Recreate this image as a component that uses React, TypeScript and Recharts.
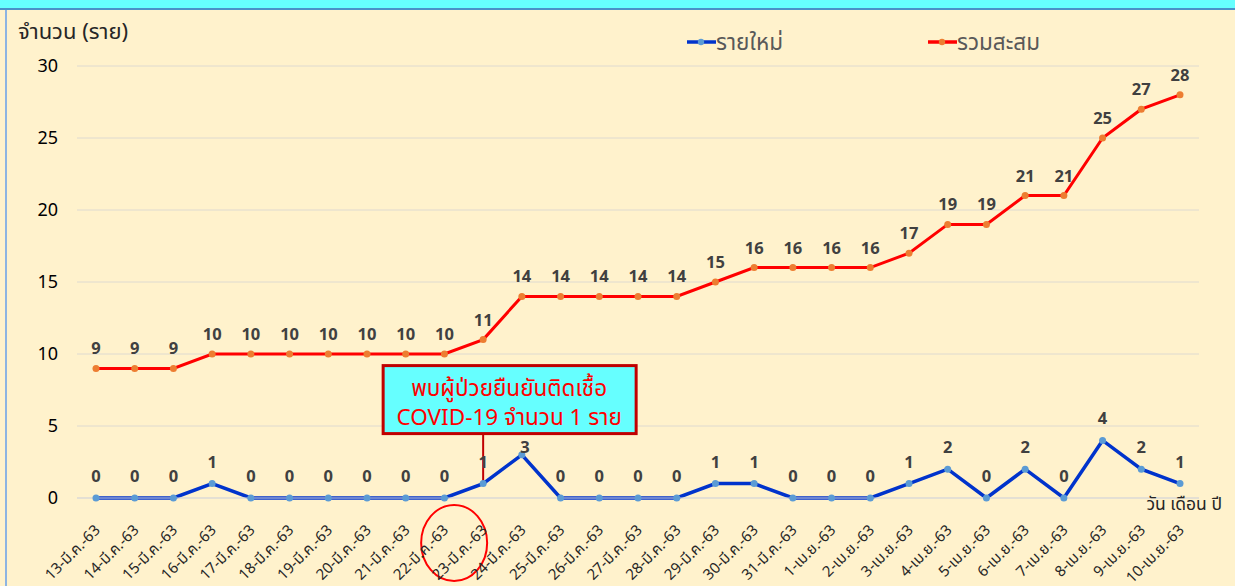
import React from 'react';
import {
  LineChart, Line, XAxis, YAxis, CartesianGrid, Legend, LabelList, ReferenceLine, ReferenceDot,
} from 'recharts';

const dates = [
  '13-มี.ค.-63', '14-มี.ค.-63', '15-มี.ค.-63', '16-มี.ค.-63', '17-มี.ค.-63', '18-มี.ค.-63',
  '19-มี.ค.-63', '20-มี.ค.-63', '21-มี.ค.-63', '22-มี.ค.-63', '23-มี.ค.-63', '24-มี.ค.-63',
  '25-มี.ค.-63', '26-มี.ค.-63', '27-มี.ค.-63', '28-มี.ค.-63', '29-มี.ค.-63', '30-มี.ค.-63',
  '31-มี.ค.-63', '1-เม.ย.-63', '2-เม.ย.-63', '3-เม.ย.-63', '4-เม.ย.-63', '5-เม.ย.-63',
  '6-เม.ย.-63', '7-เม.ย.-63', '8-เม.ย.-63', '9-เม.ย.-63', '10-เม.ย.-63',
];
const newCases = [0, 0, 0, 1, 0, 0, 0, 0, 0, 0, 1, 3, 0, 0, 0, 0, 1, 1, 0, 0, 0, 1, 2, 0, 2, 0, 4, 2, 1];
const cumulative = [9, 9, 9, 10, 10, 10, 10, 10, 10, 10, 11, 14, 14, 14, 14, 14, 15, 16, 16, 16, 16, 17, 19, 19, 21, 21, 25, 27, 28];
const yTicks = [0, 5, 10, 15, 20, 25, 30];
const seriesNames = ['รายใหม่', 'รวมสะสม'];
const yTitle = 'จำนวน (ราย)';
const xTitle = 'วัน เดือน ปี';
const noteLines = ['พบผู้ป่วยยืนยันติดเชื้อ', 'COVID-19 จำนวน 1 ราย'];
const noteDate = '23-มี.ค.-63';
const noteValue = 1;

const data = dates.map((d, i) => ({ date: d, newCases: newCases[i], cumulative: cumulative[i] }));

const FONT = '"Noto Sans", "Noto Sans Thai", "DejaVu Sans", sans-serif';

const XTick = (props: any) => {
  const { x, y, payload } = props;
  return (
    <g transform={`translate(${x + 5},${y + 25})`}>
      <text x={0} y={0} textAnchor="end" transform="rotate(-45)" fontSize={15} fill="#262626" fontFamily={FONT}>
        {payload.value}
      </text>
    </g>
  );
};

const LegendContent = () => {
  const items = [
    { name: seriesNames[0], line: '#0033CC', dot: '#5B9BD5', left: 687 },
    { name: seriesNames[1], line: '#FF0000', dot: '#ED7D31', left: 928 },
  ];
  return (
    <div style={{ position: 'relative', width: 1235, height: 60 }}>
      {items.map((it) => (
        <div key={it.name} style={{ position: 'absolute', left: it.left, top: 27, display: 'flex', alignItems: 'center' }}>
          <svg width={29} height={10} style={{ display: 'block' }}>
            <line x1={0} y1={5} x2={29} y2={5} stroke={it.line} strokeWidth={3.5} />
            <circle cx={14} cy={5} r={3.2} fill={it.dot} />
          </svg>
          <span style={{ fontFamily: FONT, fontSize: 22.5, color: '#595959', lineHeight: '30px' }}>{it.name}</span>
        </div>
      ))}
    </div>
  );
};

const NoteShape = (props: any) => {
  const { cx, cy } = props;
  const bx = cx - 100;
  const by = cy - 118;
  return (
    <g>
      <rect x={bx} y={by} width={253} height={68} fill="#66FFFF" stroke="#C00000" strokeWidth={3} />
      <text x={bx + 126} y={by + 30} textAnchor="middle" fontSize={22.5} fill="#FF0000" fontFamily={FONT}>{noteLines[0]}</text>
      <text x={bx + 126} y={by + 59} textAnchor="middle" fontSize={22.5} fill="#FF0000" fontFamily={FONT}>{noteLines[1]}</text>
    </g>
  );
};

const CircleShape = (props: any) => {
  const { cx, cy } = props;
  return <ellipse cx={cx - 29} cy={cy + 45} rx={33} ry={38} fill="none" stroke="#FF0000" strokeWidth={2} />;
};

const BlueLabel = (props: any) => {
  const { x, y, width, value, index } = props;
  const cx = x + (width || 0) / 2;
  const lift = index === 11 ? 2 : 16;
  const dx = index === 11 ? 3 : 0;
  return (
    <text x={cx + dx} y={y - lift} textAnchor="middle" fontSize={16.5} fontWeight="bold" fill="#404040" fontFamily={FONT}>
      {value}
    </text>
  );
};

export default function App() {
  return (
    <div style={{ position: 'absolute', left: 0, top: 0, width: 1235, height: 586, background: '#FFF2CC', overflow: 'hidden' }}>
      <div style={{ position: 'absolute', left: 0, top: 0, width: 1235, height: 8, background: '#66FFFF' }} />
      <div style={{ position: 'absolute', left: 0, top: 8, width: 1235, height: 2, background: '#4A90C8' }} />
      <div style={{ position: 'absolute', left: 5, top: 10, width: 2, height: 576, background: '#8DB4E2' }} />
      <div style={{ position: 'absolute', left: 18, top: 15, fontFamily: FONT, fontSize: 22, color: '#262626', lineHeight: '30px' }}>{yTitle}</div>
      <LineChart width={1235} height={586} data={data} margin={{ top: 66, right: 36, bottom: 0, left: 0 }} style={{ position: 'absolute', left: 0, top: 0 }}>
        <CartesianGrid horizontal vertical={false} stroke="#DEDAD0" strokeWidth={1} />
        <XAxis
          dataKey="date"
          height={88}
          interval={0}
          padding={{ left: 19, right: 19 }}
          axisLine={{ stroke: '#D9D9D9' }}
          tickLine={false}
          tick={<XTick />}
          label={{
            value: xTitle,
            content: (p: any) => {
              const vb = p.viewBox;
              return (
                <text x={vb.x + vb.width + 23} y={vb.y + 12} textAnchor="end" fontSize={17.5} fill="#262626" fontFamily={FONT}>{xTitle}</text>
              );
            },
          }}
        />
        <YAxis
          width={77}
          domain={[0, 30]}
          ticks={yTicks}
          interval={0}
          axisLine={false}
          tickLine={false}
          tickMargin={13}
          tick={{ fontSize: 18, fill: '#000000', fontFamily: FONT }}
        />
        <Legend layout="vertical" align="center" verticalAlign="middle" wrapperStyle={{ top: 0, left: 0, width: 1235, height: 60 }} content={<LegendContent />} />
        <Line
          name={seriesNames[1]}
          dataKey="cumulative"
          stroke="#FF0000"
          strokeWidth={3}
          dot={{ r: 3.5, fill: '#ED7D31', stroke: '#ED7D31', strokeWidth: 0 }}
          isAnimationActive={false}
        >
          <LabelList dataKey="cumulative" position="top" offset={14} fontSize={16.5} fontWeight="bold" fill="#404040" fontFamily={FONT} />
        </Line>
        <Line
          name={seriesNames[0]}
          dataKey="newCases"
          stroke="#0033CC"
          strokeWidth={3.5}
          dot={{ r: 3.5, fill: '#5B9BD5', stroke: '#5B9BD5', strokeWidth: 0 }}
          isAnimationActive={false}
        >
          <LabelList dataKey="newCases" content={<BlueLabel />} />
        </Line>
        <ReferenceLine
          segment={[{ x: noteDate, y: noteValue }, { x: noteDate, y: 4.6 }]}
          stroke="#C00000"
          strokeWidth={2}
          ifOverflow="visible"
        />
        <ReferenceDot x={noteDate} y={noteValue} r={0} ifOverflow="visible" shape={<NoteShape />} />
        <ReferenceDot x={noteDate} y={0} r={0} ifOverflow="visible" shape={<CircleShape />} />
      </LineChart>
    </div>
  );
}
